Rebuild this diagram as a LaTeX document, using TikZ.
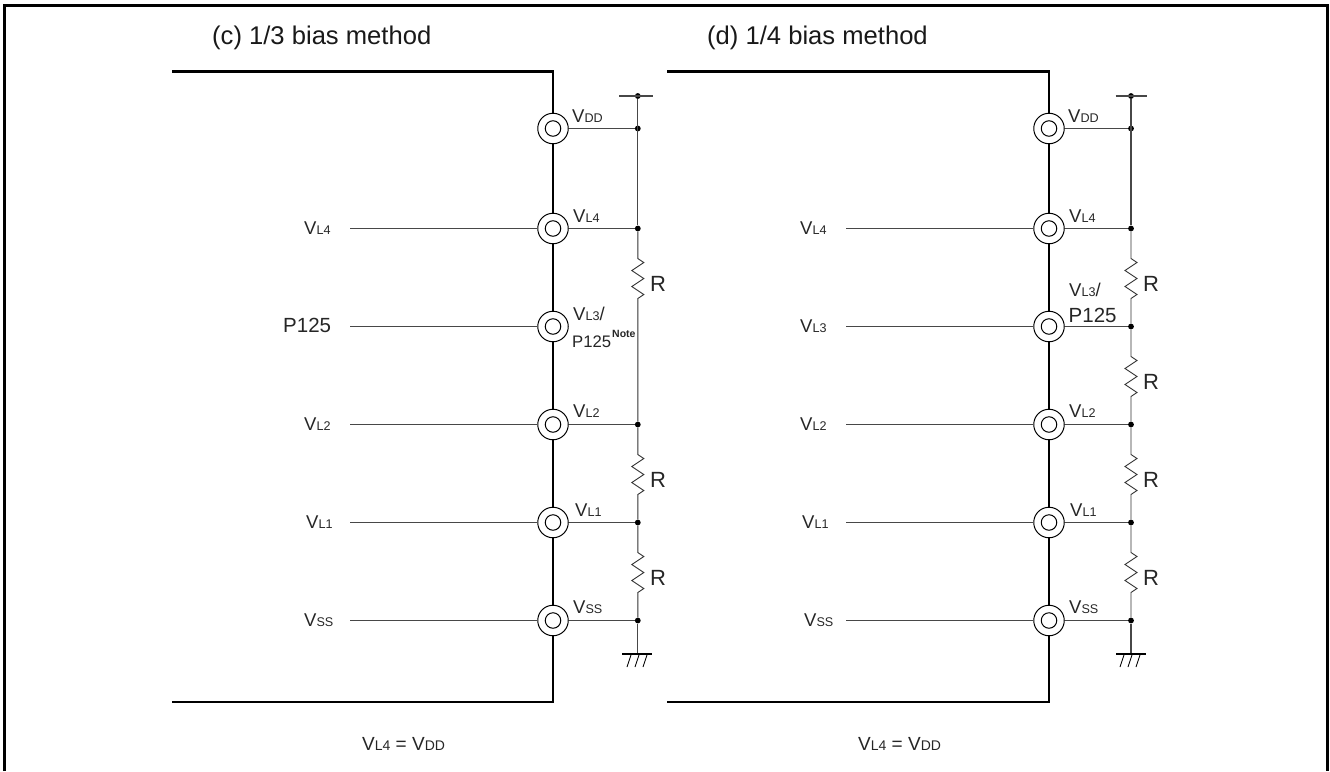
\documentclass[tikz,border=0pt]{standalone}
\usepackage{fontspec}
\setmainfont{Liberation Sans}
\newcommand{\sm}[1]{{\fontsize{12.6}{14}\selectfont #1}}
\newcommand{\smb}[1]{{\fontsize{14}{16}\selectfont #1}}
\tikzset{x=1pt,y=-1pt,
 chip/.style={line width=2.7pt,line cap=butt,line join=miter},
 wire/.style={line width=1.1pt,draw=black!72},
 rwire/.style={line width=.9pt,draw=black!80,line join=miter},
 padouter/.style={circle,draw=black,line width=1pt,fill=white,minimum size=30.5pt,inner sep=0pt},
 padinner/.style={circle,draw=black,line width=1pt,minimum size=15.5pt,inner sep=0pt},
 dotn/.style={circle,fill=black,minimum size=5.8pt,inner sep=0pt},
 lab/.style={inner sep=0pt,font=\fontsize{18.5}{20}\selectfont,anchor=base west,text=black!85},
 biglab/.style={inner sep=0pt,font=\fontsize{20.5}{22}\selectfont,anchor=base west,text=black!85},
 pinlab/.style={inner sep=0pt,font=\fontsize{16.7}{18}\selectfont,anchor=base west,text=black!85},
 eqlab/.style={inner sep=0pt,font=\fontsize{19}{21}\selectfont,anchor=base west,text=black!85},
 titlelab/.style={inner sep=0pt,font=\fontsize{25.6}{28}\selectfont,anchor=base west,text=black!90},
 rlab/.style={inner sep=0pt,font=\fontsize{22}{24}\selectfont,anchor=base west,text=black!85},
 notelab/.style={inner sep=0pt,font=\fontsize{10.5}{12}\selectfont\bfseries,anchor=base west,text=black!85},
}
\newcommand{\resistor}[3]{%
 \draw[rwire] (#1) -- ++(0,30) -- ++(6,4) -- ++(-12,8) -- ++(12,8) -- ++(-12,8) -- ++(12,8) -- ++(-6,4) -- (#2);
 \node[rlab] at (#3) {R};}
\begin{document}
\begin{tikzpicture}
\useasboundingbox (0,0) rectangle (1330,771);
\coordinate (fa) at (4.7,771); \coordinate (fb) at (4.7,5.5); \coordinate (fc) at (1327.7,5.5); \coordinate (fd) at (1327.7,771);
\draw[line width=3.2pt,line join=miter] (fa) -- (fb) -- (fc) -- (fd);
\node[titlelab] (t1) at (212,44) {(c) 1/3 bias method};
\node[titlelab] (t2) at (707,44) {(d) 1/4 bias method};
% ---- left chip
\coordinate (a1) at (172,71.5); \coordinate (a2) at (553,71.5); \coordinate (a3) at (553,702); \coordinate (a4) at (172,702);
\draw[chip] (a1) -- (a2) -- (a3) -- (a4);
\foreach \n/\y in {dd/128.5,l4/228.5,l3/326.5,l2/424.5,l1/522.5,ss/620.5}{
 \coordinate (A\n) at (637.8,\y);
 \node[padouter] (P\n) at (553,\y) {};
 \node[padinner] at (553,\y) {};
}
\foreach \n in {dd,l4,l2,l1,ss}{\draw[wire] (P\n) -- (A\n);}
\foreach \n in {dd,l4,l2,l1,ss}{\node[dotn] (D\n) at (A\n) {};}
\node[dotn] (Atop) at (637.8,96) {};
\coordinate (tl) at (619,96); \coordinate (tr) at (653,96);
\draw[wire] (tl) -- (tr);
\draw[wire] (Atop) -- (Dl4);
\resistor{Dl4}{Dl2}{650,291}
\resistor{Dl2}{Dl1}{650,487}
\resistor{Dl1}{Dss}{650,585}
\coordinate (ga) at (637.8,654); \coordinate (gl) at (622,654); \coordinate (gr) at (652,654);
\draw[wire] (Dss) -- (ga);
\draw[line width=2pt] (gl) -- (gr);
\foreach \x in {627,635,643}{\draw[line width=.9pt] (\x+4,655) -- (\x,667);}
% left wires
\foreach \n/\xs/\y in {l4/350/228.5,l3/350/326.5,l2/350/424.5,l1/350/522.5,ss/350/620.5}{
 \coordinate (B\n) at (\xs,\y);
 \draw[wire] (B\n) -- (P\n);
}
\node[lab] at (304,234) {V\sm{L4}};
\node[biglab] at (283,332) {P125};
\node[lab] at (304,430) {V\sm{L2}};
\node[lab] at (306,528) {V\sm{L1}};
\node[lab] at (304,626) {V\sm{SS}};
\node[lab] at (572,122) {V\sm{DD}};
\node[lab] at (573,222) {V\sm{L4}};
\node[lab] at (573,320.5) {V\sm{L3}/};
\node[pinlab] at (572,347) {P125};
\node[notelab] at (612,337) {Note};
\node[lab] at (573,417) {V\sm{L2}};
\node[lab] at (575,516) {V\sm{L1}};
\node[lab] at (573,613) {V\sm{SS}};
\node[eqlab] at (362,750) {V\smb{L4} = V\smb{DD}};
% ---- right chip
\coordinate (c1) at (667,71.5); \coordinate (c2) at (1049,71.5); \coordinate (c3) at (1049,702); \coordinate (c4) at (667,702);
\draw[chip] (c1) -- (c2) -- (c3) -- (c4);
\foreach \n/\y in {dd/128.5,l4/228.5,l3/326.5,l2/424.5,l1/522.5,ss/620.5}{
 \coordinate (E\n) at (1131,\y);
 \node[padouter] (Q\n) at (1049,\y) {};
 \node[padinner] at (1049,\y) {};
}
\foreach \n in {dd,l4,l3,l2,l1,ss}{\draw[wire] (Q\n) -- (E\n);}
\foreach \n in {dd,l4,l3,l2,l1,ss}{\node[dotn] (F\n) at (E\n) {};}
\node[dotn] (Etop) at (1131,96) {};
\coordinate (ul) at (1115.5,96); \coordinate (ur) at (1147,96);
\draw[wire] (ul) -- (ur);
\draw[wire] (Etop) -- (Fl4);
\resistor{Fl4}{Fl3}{1143,291}
\resistor{Fl3}{Fl2}{1143,389}
\resistor{Fl2}{Fl1}{1143,487}
\resistor{Fl1}{Fss}{1143,585}
\coordinate (ha) at (1131,654); \coordinate (hl) at (1116,654); \coordinate (hr) at (1146,654);
\draw[wire] (Fss) -- (ha);
\draw[line width=2pt] (hl) -- (hr);
\foreach \x in {1120,1128,1136}{\draw[line width=.9pt] (\x+4,655) -- (\x,667);}
\foreach \n/\y in {l4/228.5,l3/326.5,l2/424.5,l1/522.5,ss/620.5}{
 \coordinate (G\n) at (846,\y);
 \draw[wire] (G\n) -- (Q\n);
}
\node[lab] at (800,234) {V\sm{L4}};
\node[lab] at (800,332) {V\sm{L3}};
\node[lab] at (800,430) {V\sm{L2}};
\node[lab] at (802,528) {V\sm{L1}};
\node[lab] at (804,626) {V\sm{SS}};
\node[lab] at (1068,122) {V\sm{DD}};
\node[lab] at (1069,222) {V\sm{L4}};
\node[lab] at (1069,296) {V\sm{L3}/};
\node[biglab] at (1068.5,322) {P125};
\node[lab] at (1069,417) {V\sm{L2}};
\node[lab] at (1070,516) {V\sm{L1}};
\node[lab] at (1069,613) {V\sm{SS}};
\node[eqlab] at (858,750) {V\smb{L4} = V\smb{DD}};
\end{tikzpicture}
\end{document}
